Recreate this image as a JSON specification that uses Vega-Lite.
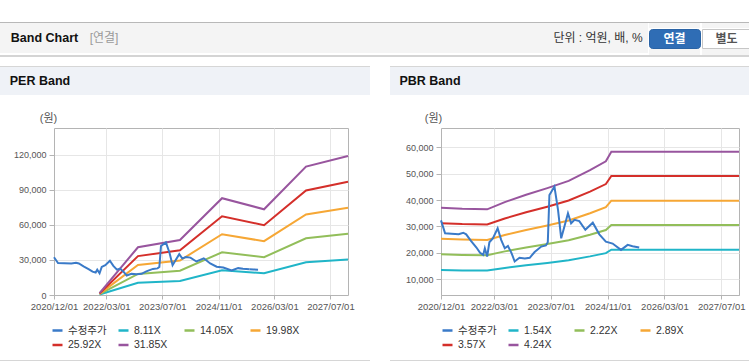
{
  "$schema": "https://vega.github.io/schema/vega-lite/v6.json",
  "padding": {"left": 0, "top": 22, "right": 0, "bottom": 0},
  "background": "#ffffff",
  "config": {
    "view": {"stroke": null},
    "concat": {"spacing": 0},
    "font": "Liberation Sans, Noto Sans CJK KR, sans-serif",
    "axis": {
      "labelFont": "Liberation Sans, Noto Sans CJK KR, sans-serif",
      "labelColor": "#555555",
      "domainColor": "#b4b4b4",
      "tickColor": "#b4b4b4",
      "gridColor": "#e6e6e6",
      "labelFlush": false,
      "labelOverlap": false
    },
    "legend": {
      "orient": "none",
      "direction": "horizontal",
      "columns": 4,
      "gridAlign": "all",
      "columnPadding": 6,
      "rowPadding": 2.5,
      "symbolType": "stroke",
      "symbolSize": 100,
      "symbolStrokeWidth": 2.5,
      "labelFontSize": 10.5,
      "labelColor": "#333333",
      "labelOffset": 4,
      "padding": 0
    }
  },
  "datasets": {
    "price": [
      {"d": "2020-12-01", "v": 32300},
      {"d": "2021-01-05", "v": 27400},
      {"d": "2021-03-01", "v": 27200},
      {"d": "2021-05-01", "v": 27000},
      {"d": "2021-06-10", "v": 27600},
      {"d": "2021-07-05", "v": 27000},
      {"d": "2021-08-15", "v": 24500},
      {"d": "2021-10-01", "v": 22000},
      {"d": "2021-11-01", "v": 20000},
      {"d": "2021-11-28", "v": 19200},
      {"d": "2021-12-12", "v": 21700},
      {"d": "2022-01-01", "v": 18600},
      {"d": "2022-01-20", "v": 24000},
      {"d": "2022-02-20", "v": 25500},
      {"d": "2022-04-01", "v": 29300},
      {"d": "2022-05-01", "v": 24900},
      {"d": "2022-06-01", "v": 21700},
      {"d": "2022-06-28", "v": 22600},
      {"d": "2022-07-28", "v": 20000},
      {"d": "2022-08-25", "v": 16700},
      {"d": "2022-10-05", "v": 18100},
      {"d": "2022-11-20", "v": 17800},
      {"d": "2023-01-01", "v": 18100},
      {"d": "2023-02-12", "v": 20300},
      {"d": "2023-04-10", "v": 22350},
      {"d": "2023-05-20", "v": 22800},
      {"d": "2023-06-05", "v": 24000},
      {"d": "2023-06-19", "v": 41900},
      {"d": "2023-08-01", "v": 45100},
      {"d": "2023-09-01", "v": 36200},
      {"d": "2023-09-28", "v": 25500},
      {"d": "2023-10-25", "v": 29900},
      {"d": "2023-11-25", "v": 35000},
      {"d": "2023-12-22", "v": 31200},
      {"d": "2024-01-20", "v": 32500},
      {"d": "2024-03-01", "v": 32000},
      {"d": "2024-04-22", "v": 28700},
      {"d": "2024-06-25", "v": 31400},
      {"d": "2024-08-20", "v": 27000},
      {"d": "2024-10-15", "v": 24200},
      {"d": "2024-12-12", "v": 23500},
      {"d": "2025-02-22", "v": 21100},
      {"d": "2025-04-20", "v": 23000},
      {"d": "2025-06-01", "v": 22500},
      {"d": "2025-07-28", "v": 22000}
    ],
    "perPriceTail": [
      {"d": "2025-07-28", "v": 22000},
      {"d": "2025-09-01", "v": 21800},
      {"d": "2025-10-10", "v": 21700}
    ],
    "perBands": [
      {"s": "8.11X", "d": "2022-01-01", "v": 406},
      {"s": "8.11X", "d": "2022-12-01", "v": 10413},
      {"s": "8.11X", "d": "2023-12-01", "v": 11995},
      {"s": "8.11X", "d": "2024-12-01", "v": 21110},
      {"s": "8.11X", "d": "2025-12-01", "v": 18694},
      {"s": "8.11X", "d": "2026-12-01", "v": 28012},
      {"s": "8.11X", "d": "2027-12-01", "v": 30323},
      {"s": "14.05X", "d": "2022-01-01", "v": 703},
      {"s": "14.05X", "d": "2022-12-01", "v": 18040},
      {"s": "14.05X", "d": "2023-12-01", "v": 20780},
      {"s": "14.05X", "d": "2024-12-01", "v": 36572},
      {"s": "14.05X", "d": "2025-12-01", "v": 32385},
      {"s": "14.05X", "d": "2026-12-01", "v": 48529},
      {"s": "14.05X", "d": "2027-12-01", "v": 52533},
      {"s": "19.98X", "d": "2022-01-01", "v": 999},
      {"s": "19.98X", "d": "2022-12-01", "v": 25654},
      {"s": "19.98X", "d": "2023-12-01", "v": 29550},
      {"s": "19.98X", "d": "2024-12-01", "v": 52008},
      {"s": "19.98X", "d": "2025-12-01", "v": 46054},
      {"s": "19.98X", "d": "2026-12-01", "v": 69011},
      {"s": "19.98X", "d": "2027-12-01", "v": 74705},
      {"s": "25.92X", "d": "2022-01-01", "v": 1296},
      {"s": "25.92X", "d": "2022-12-01", "v": 33281},
      {"s": "25.92X", "d": "2023-12-01", "v": 38336},
      {"s": "25.92X", "d": "2024-12-01", "v": 67470},
      {"s": "25.92X", "d": "2025-12-01", "v": 59746},
      {"s": "25.92X", "d": "2026-12-01", "v": 89528},
      {"s": "25.92X", "d": "2027-12-01", "v": 96915},
      {"s": "31.85X", "d": "2022-01-01", "v": 1593},
      {"s": "31.85X", "d": "2022-12-01", "v": 40895},
      {"s": "31.85X", "d": "2023-12-01", "v": 47106},
      {"s": "31.85X", "d": "2024-12-01", "v": 82906},
      {"s": "31.85X", "d": "2025-12-01", "v": 73414},
      {"s": "31.85X", "d": "2026-12-01", "v": 110010},
      {"s": "31.85X", "d": "2027-12-01", "v": 119087}
    ],
    "pbrBands": [
      {"s": "1.54X", "d": "2020-12-01", "v": 13475},
      {"s": "1.54X", "d": "2021-06-01", "v": 13321},
      {"s": "1.54X", "d": "2022-01-01", "v": 13244},
      {"s": "1.54X", "d": "2022-06-01", "v": 14245},
      {"s": "1.54X", "d": "2022-12-01", "v": 15246},
      {"s": "1.54X", "d": "2023-06-01", "v": 16170},
      {"s": "1.54X", "d": "2023-12-01", "v": 17171},
      {"s": "1.54X", "d": "2024-06-01", "v": 18634},
      {"s": "1.54X", "d": "2024-10-15", "v": 19866},
      {"s": "1.54X", "d": "2024-12-01", "v": 21175},
      {"s": "1.54X", "d": "2027-12-01", "v": 21175},
      {"s": "2.22X", "d": "2020-12-01", "v": 19425},
      {"s": "2.22X", "d": "2021-06-01", "v": 19203},
      {"s": "2.22X", "d": "2022-01-01", "v": 19092},
      {"s": "2.22X", "d": "2022-06-01", "v": 20535},
      {"s": "2.22X", "d": "2022-12-01", "v": 21978},
      {"s": "2.22X", "d": "2023-06-01", "v": 23310},
      {"s": "2.22X", "d": "2023-12-01", "v": 24753},
      {"s": "2.22X", "d": "2024-06-01", "v": 26862},
      {"s": "2.22X", "d": "2024-10-15", "v": 28638},
      {"s": "2.22X", "d": "2024-12-01", "v": 30525},
      {"s": "2.22X", "d": "2027-12-01", "v": 30525},
      {"s": "2.89X", "d": "2020-12-01", "v": 25288},
      {"s": "2.89X", "d": "2021-06-01", "v": 24999},
      {"s": "2.89X", "d": "2022-01-01", "v": 24854},
      {"s": "2.89X", "d": "2022-06-01", "v": 26733},
      {"s": "2.89X", "d": "2022-12-01", "v": 28611},
      {"s": "2.89X", "d": "2023-06-01", "v": 30345},
      {"s": "2.89X", "d": "2023-12-01", "v": 32224},
      {"s": "2.89X", "d": "2024-06-01", "v": 34969},
      {"s": "2.89X", "d": "2024-10-15", "v": 37281},
      {"s": "2.89X", "d": "2024-12-01", "v": 39738},
      {"s": "2.89X", "d": "2027-12-01", "v": 39738},
      {"s": "3.57X", "d": "2020-12-01", "v": 31238},
      {"s": "3.57X", "d": "2021-06-01", "v": 30881},
      {"s": "3.57X", "d": "2022-01-01", "v": 30702},
      {"s": "3.57X", "d": "2022-06-01", "v": 33023},
      {"s": "3.57X", "d": "2022-12-01", "v": 35343},
      {"s": "3.57X", "d": "2023-06-01", "v": 37485},
      {"s": "3.57X", "d": "2023-12-01", "v": 39806},
      {"s": "3.57X", "d": "2024-06-01", "v": 43197},
      {"s": "3.57X", "d": "2024-10-15", "v": 46053},
      {"s": "3.57X", "d": "2024-12-01", "v": 49088},
      {"s": "3.57X", "d": "2027-12-01", "v": 49088},
      {"s": "4.24X", "d": "2020-12-01", "v": 37100},
      {"s": "4.24X", "d": "2021-06-01", "v": 36676},
      {"s": "4.24X", "d": "2022-01-01", "v": 36464},
      {"s": "4.24X", "d": "2022-06-01", "v": 39220},
      {"s": "4.24X", "d": "2022-12-01", "v": 41976},
      {"s": "4.24X", "d": "2023-06-01", "v": 44520},
      {"s": "4.24X", "d": "2023-12-01", "v": 47276},
      {"s": "4.24X", "d": "2024-06-01", "v": 51304},
      {"s": "4.24X", "d": "2024-10-15", "v": 54696},
      {"s": "4.24X", "d": "2024-12-01", "v": 58300},
      {"s": "4.24X", "d": "2027-12-01", "v": 58300}
    ]
  },
  "resolve": {
    "scale": {"x": "independent", "y": "independent", "color": "independent"},
    "legend": {"color": "independent"}
  },
  "spacing": 9,
  "vconcat": [
    {
      "spacing": 0,
      "vconcat": [
        {"width": 749, "height": 1, "view": {"fill": "#b8b8b8", "stroke": null}, "data": {"values": [{}]}, "mark": {"type": "rect", "opacity": 0}, "encoding": {}},
        {
          "spacing": 0,
          "hconcat": [
            {"width": 89, "height": 30, "view": {"fill": "#f4f4f4", "stroke": null}, "data": {"values": [{"t": "Band Chart"}]}, "mark": {"type": "text", "fontSize": 12.5, "fontWeight": "bold", "color": "#111111"}, "encoding": {"text": {"field": "t"}}},
            {"width": 30, "height": 30, "view": {"fill": "#f4f4f4", "stroke": null}, "data": {"values": [{"t": "[연결]"}]}, "mark": {"type": "text", "fontSize": 12, "color": "#9a9a9a"}, "encoding": {"text": {"field": "t"}}},
            {"width": 429, "height": 30, "view": {"fill": "#f4f4f4", "stroke": null}, "data": {"values": [{}]}, "mark": {"type": "rect", "opacity": 0}, "encoding": {}},
            {"width": 100, "height": 30, "view": {"fill": "#f4f4f4", "stroke": null}, "data": {"values": [{"t": "단위 : 억원, 배, %"}]}, "mark": {"type": "text", "fontSize": 12, "color": "#333333"}, "encoding": {"text": {"field": "t"}}},
            {
              "spacing": 0,
              "vconcat": [
                {"width": 51, "height": 5, "view": {"fill": "#f4f4f4", "stroke": null}, "data": {"values": [{}]}, "mark": {"type": "rect", "opacity": 0}, "encoding": {}},
                {"width": 51, "height": 19, "view": {"fill": "#2f6db5", "stroke": "#2a63a5", "cornerRadius": 3}, "data": {"values": [{"t": "연결"}]}, "mark": {"type": "text", "fontSize": 12, "fontWeight": "bold", "color": "#ffffff"}, "encoding": {"text": {"field": "t"}}},
                {"width": 51, "height": 6, "view": {"fill": "#f4f4f4", "stroke": null}, "data": {"values": [{}]}, "mark": {"type": "rect", "opacity": 0}, "encoding": {}}
              ]
            },
            {
              "spacing": 0,
              "vconcat": [
                {"width": 49, "height": 5, "view": {"fill": "#f4f4f4", "stroke": null}, "data": {"values": [{}]}, "mark": {"type": "rect", "opacity": 0}, "encoding": {}},
                {"width": 49, "height": 19, "view": {"fill": "#ffffff", "stroke": "#c6c6c6"}, "data": {"values": [{"t": "별도"}]}, "mark": {"type": "text", "fontSize": 12, "fontWeight": "bold", "color": "#555555"}, "encoding": {"text": {"field": "t"}}},
                {"width": 49, "height": 6, "view": {"fill": "#f4f4f4", "stroke": null}, "data": {"values": [{}]}, "mark": {"type": "rect", "opacity": 0}, "encoding": {}}
              ]
            },
            {"width": 1, "height": 30, "view": {"fill": "#f4f4f4", "stroke": null}, "data": {"values": [{}]}, "mark": {"type": "rect", "opacity": 0}, "encoding": {}}
          ]
        },
        {"width": 749, "height": 2, "view": {"fill": "#d4d4d4", "stroke": null}, "data": {"values": [{}]}, "mark": {"type": "rect", "opacity": 0}, "encoding": {}}
      ]
    },
    {
      "spacing": 20,
      "resolve": {
        "scale": {"x": "independent", "y": "independent", "color": "independent"},
        "legend": {"color": "independent"}
      },
      "hconcat": [
        {
          "spacing": 0,
          "vconcat": [
            {"width": 370, "height": 1, "view": {"fill": "#d6d6d6", "stroke": null}, "data": {"values": [{}]}, "mark": {"type": "rect", "opacity": 0}, "encoding": {}},
            {
              "spacing": 0,
              "hconcat": [
                {"width": 80, "height": 28, "view": {"fill": "#eff2f7", "stroke": null}, "data": {"values": [{"t": "PER Band"}]}, "mark": {"type": "text", "fontSize": 12.5, "fontWeight": "bold", "color": "#111111"}, "encoding": {"text": {"field": "t"}}},
                {"width": 290, "height": 28, "view": {"fill": "#eff2f7", "stroke": null}, "data": {"values": [{}]}, "mark": {"type": "rect", "opacity": 0}, "encoding": {}}
              ]
            },
            {"width": 370, "height": 15.5, "data": {"values": [{}]}, "mark": {"type": "rect", "opacity": 0}, "encoding": {}},
            {
              "spacing": 0,
              "hconcat": [
                {"width": 12, "height": 167, "data": {"values": [{}]}, "mark": {"type": "rect", "opacity": 0}, "encoding": {}},
                {
                  "width": 294,
                  "height": 167,
                  "view": {"stroke": "#b4b4b4"},
                  "encoding": {
                    "x": {
                      "field": "d", "type": "temporal",
                      "scale": {"domain": [{"year": 2020, "month": 12, "date": 1}, {"year": 2027, "month": 12, "date": 1}]},
                      "axis": {
                        "title": null, "format": "%Y/%m/%d", "labelFontSize": 9.5, "tickSize": 4, "labelPadding": 2,
                        "values": [
                          {"year": 2020, "month": 12, "date": 1}, {"year": 2022, "month": 3, "date": 1},
                          {"year": 2023, "month": 7, "date": 1}, {"year": 2024, "month": 11, "date": 1},
                          {"year": 2026, "month": 3, "date": 1}, {"year": 2027, "month": 7, "date": 1}
                        ]
                      }
                    },
                    "y": {
                      "field": "v", "type": "quantitative",
                      "scale": {"domain": [0, 143000], "nice": false, "zero": false},
                      "axis": {
                        "values": [0, 30000, 60000, 90000, 120000], "format": ",d", "labelFontSize": 9, "tickSize": 5, "labelPadding": 3,
                        "title": "(원)", "titleAngle": 0, "titleX": -6, "titleY": -10, "titleAlign": "center", "titleBaseline": "middle",
                        "titleFontWeight": "normal", "titleFontSize": 11, "titleColor": "#555555"
                      }
                    }
                  },
                  "layer": [
                    {
                      "data": {"name": "perBands"},
                      "mark": {"type": "line", "strokeWidth": 2},
                      "encoding": {
                        "color": {
                          "field": "s", "type": "nominal", "title": null,
                          "scale": {"domain": ["수정주가", "8.11X", "14.05X", "19.98X", "25.92X", "31.85X"], "range": ["#3a7ac8", "#20b5c8", "#92be5a", "#f6a735", "#d42f2a", "#98559e"]},
                          "legend": {"legendX": 51, "legendY": 258}
                        }
                      }
                    },
                    {
                      "data": {"name": "price"},
                      "mark": {"type": "line", "strokeWidth": 2},
                      "encoding": {
                        "color": {
                          "datum": "수정주가", "type": "nominal", "title": null,
                          "scale": {"domain": ["수정주가", "8.11X", "14.05X", "19.98X", "25.92X", "31.85X"], "range": ["#3a7ac8", "#20b5c8", "#92be5a", "#f6a735", "#d42f2a", "#98559e"]},
                          "legend": {"legendX": 51, "legendY": 258}
                        }
                      }
                    },
                    {
                      "data": {"name": "perPriceTail"},
                      "mark": {"type": "line", "strokeWidth": 2},
                      "encoding": {
                        "color": {
                          "datum": "수정주가", "type": "nominal", "title": null,
                          "scale": {"domain": ["수정주가", "8.11X", "14.05X", "19.98X", "25.92X", "31.85X"], "range": ["#3a7ac8", "#20b5c8", "#92be5a", "#f6a735", "#d42f2a", "#98559e"]},
                          "legend": {"legendX": 51, "legendY": 258}
                        }
                      }
                    }
                  ]
                }
              ]
            },
            {"width": 370, "height": 49, "data": {"values": [{}]}, "mark": {"type": "rect", "opacity": 0}, "encoding": {}},
            {"width": 370, "height": 1, "view": {"fill": "#d6d6d6", "stroke": null}, "data": {"values": [{}]}, "mark": {"type": "rect", "opacity": 0}, "encoding": {}}
          ]
        },
        {
          "spacing": 0,
          "vconcat": [
            {"width": 359, "height": 1, "view": {"fill": "#d6d6d6", "stroke": null}, "data": {"values": [{}]}, "mark": {"type": "rect", "opacity": 0}, "encoding": {}},
            {
              "spacing": 0,
              "hconcat": [
                {"width": 80, "height": 28, "view": {"fill": "#eff2f7", "stroke": null}, "data": {"values": [{"t": "PBR Band"}]}, "mark": {"type": "text", "fontSize": 12.5, "fontWeight": "bold", "color": "#111111"}, "encoding": {"text": {"field": "t"}}},
                {"width": 279, "height": 28, "view": {"fill": "#eff2f7", "stroke": null}, "data": {"values": [{}]}, "mark": {"type": "rect", "opacity": 0}, "encoding": {}}
              ]
            },
            {"width": 359, "height": 15.5, "data": {"values": [{}]}, "mark": {"type": "rect", "opacity": 0}, "encoding": {}},
            {
              "spacing": 0,
              "hconcat": [
                {"width": 14, "height": 167, "data": {"values": [{}]}, "mark": {"type": "rect", "opacity": 0}, "encoding": {}},
                {
                  "width": 298,
                  "height": 167,
                  "view": {"stroke": "#b4b4b4"},
                  "encoding": {
                    "x": {
                      "field": "d", "type": "temporal",
                      "scale": {"domain": [{"year": 2020, "month": 12, "date": 1}, {"year": 2027, "month": 12, "date": 1}]},
                      "axis": {
                        "title": null, "format": "%Y/%m/%d", "labelFontSize": 9.5, "tickSize": 4, "labelPadding": 2,
                        "values": [
                          {"year": 2020, "month": 12, "date": 1}, {"year": 2022, "month": 3, "date": 1},
                          {"year": 2023, "month": 7, "date": 1}, {"year": 2024, "month": 11, "date": 1},
                          {"year": 2026, "month": 3, "date": 1}, {"year": 2027, "month": 7, "date": 1}
                        ]
                      }
                    },
                    "y": {
                      "field": "v", "type": "quantitative",
                      "scale": {"domain": [4000, 67300], "nice": false, "zero": false},
                      "axis": {
                        "values": [10000, 20000, 30000, 40000, 50000, 60000], "format": ",d", "labelFontSize": 9, "tickSize": 5, "labelPadding": 3,
                        "title": "(원)", "titleAngle": 0, "titleX": -8, "titleY": -10, "titleAlign": "center", "titleBaseline": "middle",
                        "titleFontWeight": "normal", "titleFontSize": 11, "titleColor": "#555555"
                      }
                    }
                  },
                  "layer": [
                    {
                      "data": {"name": "pbrBands"},
                      "mark": {"type": "line", "strokeWidth": 2},
                      "encoding": {
                        "color": {
                          "field": "s", "type": "nominal", "title": null,
                          "scale": {"domain": ["수정주가", "1.54X", "2.22X", "2.89X", "3.57X", "4.24X"], "range": ["#3a7ac8", "#20b5c8", "#92be5a", "#f6a735", "#d42f2a", "#98559e"]},
                          "legend": {"legendX": 51, "legendY": 258}
                        }
                      }
                    },
                    {
                      "data": {"name": "price"},
                      "mark": {"type": "line", "strokeWidth": 2},
                      "encoding": {
                        "color": {
                          "datum": "수정주가", "type": "nominal", "title": null,
                          "scale": {"domain": ["수정주가", "1.54X", "2.22X", "2.89X", "3.57X", "4.24X"], "range": ["#3a7ac8", "#20b5c8", "#92be5a", "#f6a735", "#d42f2a", "#98559e"]},
                          "legend": {"legendX": 51, "legendY": 258}
                        }
                      }
                    }
                  ]
                }
              ]
            },
            {"width": 359, "height": 49, "data": {"values": [{}]}, "mark": {"type": "rect", "opacity": 0}, "encoding": {}},
            {"width": 359, "height": 1, "view": {"fill": "#d6d6d6", "stroke": null}, "data": {"values": [{}]}, "mark": {"type": "rect", "opacity": 0}, "encoding": {}}
          ]
        }
      ]
    }
  ]
}
